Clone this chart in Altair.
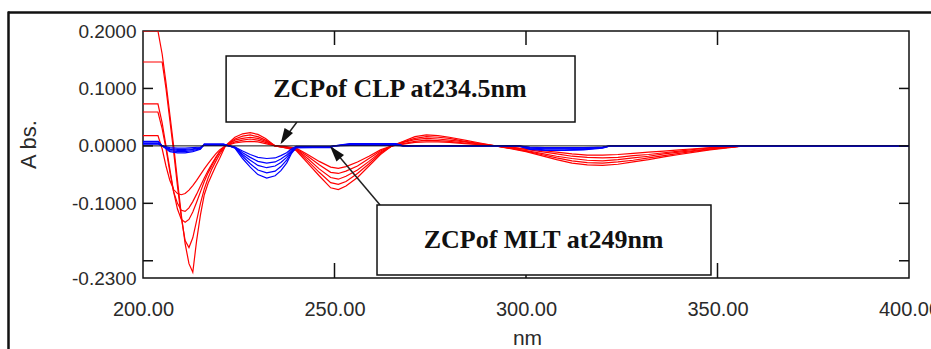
import altair as alt
import pandas as pd

# ---------------- data ----------------
red_wl = [200, 203.9, 205, 206, 207, 208, 209, 210, 211, 212, 213, 214, 215, 216, 217, 218, 219, 220,
          221.5, 224, 226, 228, 230, 232, 234.5, 237, 240, 243, 246, 249, 251, 253, 256, 259, 262, 265,
          268, 271, 274, 277, 280, 284, 288, 292, 296, 300, 304, 308, 312, 316, 320, 324, 328, 332, 336,
          340, 344, 348, 352, 357, 400]

red_E = [0.200, 0.200, 0.160, 0.110, 0.055, 0.000, -0.060, -0.120, -0.170, -0.205,
         -0.220, -0.165, -0.120, -0.085, -0.065, -0.050, -0.035, -0.022, 0.000, 0.015,
         0.021, 0.023, 0.020, 0.013, 0.000, -0.003, -0.008, -0.030, -0.052, -0.073,
         -0.076, -0.070, -0.055, -0.035, -0.015, 0.000, 0.008, 0.016, 0.019, 0.018,
         0.015, 0.010, 0.005, 0.000, -0.005, -0.010, -0.017, -0.024, -0.030, -0.033,
         -0.034, -0.032, -0.028, -0.024, -0.019, -0.015, -0.011, -0.007, -0.004, 0.000, 0.000]
red_D = [0.146, 0.146, 0.146, 0.100, 0.045, -0.010, -0.070, -0.125, -0.165, -0.177,
         -0.160, -0.130, -0.100, -0.075, -0.056, -0.040, -0.027, -0.015, 0.000, 0.012,
         0.017, 0.019, 0.016, 0.010, 0.000, -0.003, -0.007, -0.026, -0.046, -0.064,
         -0.067, -0.062, -0.048, -0.031, -0.013, 0.000, 0.007, 0.013, 0.016, 0.015,
         0.013, 0.008, 0.004, 0.000, -0.004, -0.009, -0.015, -0.021, -0.026, -0.029,
         -0.030, -0.028, -0.025, -0.021, -0.017, -0.013, -0.009, -0.006, -0.003, 0.000, 0.000]
red_C = [0.073, 0.073, 0.040, 0.000, -0.040, -0.080, -0.110, -0.128, -0.133, -0.128,
         -0.115, -0.098, -0.080, -0.062, -0.047, -0.034, -0.022, -0.011, 0.000, 0.010,
         0.013, 0.015, 0.013, 0.008, 0.000, -0.002, -0.006, -0.022, -0.040, -0.055,
         -0.058, -0.053, -0.042, -0.027, -0.011, 0.000, 0.006, 0.011, 0.013, 0.012,
         0.010, 0.007, 0.003, 0.000, -0.004, -0.008, -0.013, -0.018, -0.022, -0.025,
         -0.026, -0.024, -0.021, -0.018, -0.014, -0.011, -0.008, -0.005, -0.003, 0.000, 0.000]
red_B = [0.059, 0.059, 0.030, -0.005, -0.045, -0.080, -0.100, -0.112, -0.114, -0.108,
         -0.097, -0.084, -0.070, -0.056, -0.043, -0.031, -0.020, -0.010, 0.000, 0.007,
         0.010, 0.012, 0.010, 0.006, 0.000, -0.002, -0.005, -0.018, -0.033, -0.046,
         -0.048, -0.044, -0.035, -0.022, -0.009, 0.000, 0.004, 0.008, 0.010, 0.009,
         0.008, 0.005, 0.002, 0.000, -0.003, -0.006, -0.010, -0.014, -0.018, -0.020,
         -0.021, -0.020, -0.017, -0.015, -0.012, -0.009, -0.006, -0.004, -0.002, 0.000, 0.000]
red_A = [0.018, 0.018, -0.005, -0.035, -0.060, -0.076, -0.083, -0.085, -0.083, -0.077,
         -0.069, -0.060, -0.050, -0.040, -0.031, -0.022, -0.014, -0.007, 0.000, 0.005,
         0.007, 0.008, 0.007, 0.004, 0.000, -0.001, -0.004, -0.015, -0.027, -0.037,
         -0.039, -0.036, -0.028, -0.018, -0.007, 0.000, 0.003, 0.006, 0.007, 0.007,
         0.006, 0.004, 0.002, 0.000, -0.002, -0.005, -0.008, -0.011, -0.014, -0.016,
         -0.016, -0.015, -0.013, -0.011, -0.009, -0.007, -0.005, -0.003, -0.002, 0.000, 0.000]

blue_wl = [200, 204, 205, 207, 209, 211, 213, 215, 216, 221, 222.5, 224, 226, 228, 230, 232.3,
           234.5, 236, 237.5, 238.8, 240, 249, 250, 254, 266, 268, 298, 301, 305, 310, 315, 320, 322, 400]
blue_F5 = [0.008, 0.008, 0.0, -0.010, -0.012, -0.012, -0.010, -0.006, 0.003, 0.003,
           0.0, -0.004, -0.022, -0.037, -0.050, -0.056, -0.052, -0.043, -0.030, -0.013,
           -0.003, -0.003, 0.0, 0.004, 0.004, 0.0, 0.0, -0.006, -0.008, -0.008,
           -0.007, -0.004, 0.0, 0.0]
blue_F4 = [0.007, 0.007, 0.0, -0.008, -0.010, -0.010, -0.008, -0.005, 0.003, 0.003,
           0.0, -0.003, -0.018, -0.031, -0.042, -0.047, -0.044, -0.036, -0.025, -0.011,
           -0.003, -0.002, 0.0, 0.003, 0.003, 0.0, 0.0, -0.005, -0.007, -0.007,
           -0.006, -0.003, 0.0, 0.0]
blue_F3 = [0.005, 0.005, 0.0, -0.006, -0.008, -0.008, -0.006, -0.004, 0.002, 0.002,
           0.0, -0.003, -0.015, -0.025, -0.034, -0.038, -0.035, -0.029, -0.020, -0.009,
           -0.002, -0.002, 0.0, 0.002, 0.002, 0.0, 0.0, -0.004, -0.005, -0.005,
           -0.005, -0.003, 0.0, 0.0]
blue_F2 = [0.004, 0.004, 0.0, -0.005, -0.006, -0.006, -0.005, -0.003, 0.002, 0.002,
           0.0, -0.002, -0.012, -0.020, -0.027, -0.030, -0.028, -0.023, -0.016, -0.007,
           -0.002, -0.001, 0.0, 0.002, 0.002, 0.0, 0.0, -0.003, -0.004, -0.004,
           -0.004, -0.002, 0.0, 0.0]
blue_F1 = [0.003, 0.003, 0.0, -0.003, -0.004, -0.004, -0.003, -0.002, 0.001, 0.001,
           0.0, -0.002, -0.009, -0.015, -0.020, -0.022, -0.021, -0.017, -0.012, -0.005,
           -0.001, -0.001, 0.0, 0.001, 0.001, 0.0, 0.0, -0.002, -0.003, -0.003,
           -0.003, -0.002, 0.0, 0.0]

x_ticks = [250, 300, 350]
x_labels = [200, 250, 300, 350, 400]
y_ticks = [0.1, 0.0, -0.1, -0.2]
y_labels = [0.2, 0.1, 0.0, -0.1, -0.23]

box_texts = ["ZCPof CLP  at234.5nm", "ZCPof MLT  at249nm"]
box_x1 = [221.7, 261.1]
box_x2 = [312.8, 348.3]
box_y1 = [0.1565, -0.1029]
box_y2 = [0.0416, -0.2248]
text_x = [267.1, 304.6]
text_y = [0.0990, -0.1639]

arrow_x1 = [240.2, 261.9]
arrow_y1 = [0.0416, -0.1029]
arrow_x2 = [236.3, 249.35]
arrow_y2 = [0.0068, -0.0037]
head_x = [237.1, 250.3]
head_y = [0.0160, -0.0120]
head_angle = [211, 320]

# ---------------- tables ----------------
rows = []
for name, vals in [("A", red_A), ("B", red_B), ("C", red_C), ("D", red_D), ("E", red_E)]:
    for w, v in zip(red_wl, vals):
        rows.append({"nm": w, "abs": v, "series": "CLP" + name, "drug": "CLP"})
for name, vals in [("1", blue_F1), ("2", blue_F2), ("3", blue_F3), ("4", blue_F4), ("5", blue_F5)]:
    for w, v in zip(blue_wl, vals):
        rows.append({"nm": w, "abs": v, "series": "MLT" + name, "drug": "MLT"})
df = pd.DataFrame(rows)

boxes = pd.DataFrame({"x1": box_x1, "x2": box_x2, "y1": box_y1, "y2": box_y2,
                      "tx": text_x, "ty": text_y, "label": box_texts})
arrows = pd.DataFrame({"x1": arrow_x1, "y1": arrow_y1, "x2": arrow_x2, "y2": arrow_y2,
                       "hx": head_x, "hy": head_y, "ang": head_angle})

W, H = 766, 247
xs = alt.Scale(domain=[200, 400], nice=False, zero=False)
ys = alt.Scale(domain=[-0.23, 0.2], nice=False, zero=False)

FONT = "Liberation Sans"
x_axis = alt.Axis(values=x_labels, labelExpr="format(datum.value, '.2f')", ticks=False,
                  domain=False, grid=False, labelFont=FONT,
                  labelFontSize=20, labelColor="#2a2a2a", labelPadding=21, labelFlush=False,
                  labelOverlap=False, labelBound=False,
                  title="nm", titleFont=FONT, titleFontSize=21,
                  titleFontWeight="normal", titleColor="#2a2a2a", titleX=384, titleY=60,
                  titleBaseline="middle", titleAlign="center")
y_axis = alt.Axis(values=y_labels,
                  labelExpr="(datum.value < 0 ? '-' : '') + format(abs(datum.value), '.4f')",
                  ticks=False, domain=False, grid=False, labelFont=FONT,
                  labelFontSize=19, labelColor="#2a2a2a", labelPadding=7, labelFlush=False,
                  labelOverlap=False, labelBound=False,
                  title="A bs.", titleFont=FONT, titleFontSize=22, titleFontWeight="normal",
                  titleColor="#2a2a2a", titleAngle=270, titleX=-115, titleY=113,
                  titleAlign="center", titleBaseline="middle")


def X(f):
    return alt.X(f, scale=xs, axis=x_axis)


def Y(f):
    return alt.Y(f, scale=ys, axis=y_axis)


lines = alt.Chart(df).mark_line(strokeWidth=1.2, clip=True, interpolate="linear").encode(
    x=X("nm:Q"),
    y=Y("abs:Q"),
    color=alt.Color("drug:N", scale=alt.Scale(domain=["CLP", "MLT"], range=["#ff0000", "#0000ff"]),
                    legend=None),
    detail="series:N",
    order=alt.Order("nm:Q"),
)

zero = alt.Chart(pd.DataFrame({"v": [0.0]})).mark_rule(color="#111", strokeWidth=1).encode(
    y=Y("v:Q"))

tick_df_x = pd.DataFrame({"t": x_ticks})
xt_top = alt.Chart(tick_df_x).mark_rule(color="#111", strokeWidth=1.5).encode(
    x=X("t:Q"), y=alt.value(0), y2=alt.value(14))
xt_bot = alt.Chart(tick_df_x).mark_rule(color="#111", strokeWidth=1.5).encode(
    x=X("t:Q"), y=alt.value(H), y2=alt.value(H - 15))
tick_df_y = pd.DataFrame({"t": y_ticks})
yt_left = alt.Chart(tick_df_y).mark_rule(color="#111", strokeWidth=1.5).encode(
    y=Y("t:Q"), x=alt.value(0), x2=alt.value(10))
yt_right = alt.Chart(tick_df_y).mark_rule(color="#111", strokeWidth=1.5).encode(
    y=Y("t:Q"), x=alt.value(W), x2=alt.value(W - 10))

box_rect = alt.Chart(boxes).mark_rect(fill="white", stroke="#111", strokeWidth=1.5).encode(
    x=X("x1:Q"), x2="x2:Q", y=Y("y1:Q"), y2="y2:Q")
box_text = alt.Chart(boxes).mark_text(font="Liberation Serif", fontWeight="bold", fontSize=26,
                                       color="#111", align="center", baseline="middle").encode(
    x=X("tx:Q"), y=Y("ty:Q"), text="label:N")

arrow_line = alt.Chart(arrows).mark_rule(color="#222", strokeWidth=1.5).encode(
    x=X("x1:Q"), y=Y("y1:Q"), x2="x2:Q", y2="y2:Q")
arrow_head = alt.Chart(arrows).mark_point(shape="M0,-1L0.55,0.8L-0.55,0.8Z", filled=True, size=320,
                                          color="#111", opacity=1).encode(
    x=X("hx:Q"), y=Y("hy:Q"), angle=alt.Angle("ang:Q", scale=None))

one = pd.DataFrame({"a": [0]})
frame_top = alt.Chart(one).mark_rule(color="#111", strokeWidth=2.5).encode(
    x=alt.value(-135), x2=alt.value(W + 30), y=alt.value(-18.5))
frame_left = alt.Chart(one).mark_rule(color="#111", strokeWidth=2.5).encode(
    x=alt.value(-134.5), y=alt.value(-19.5), y2=alt.value(H + 80))

chart = alt.layer(
    lines, zero, xt_top, xt_bot, yt_left, yt_right,
    arrow_line, arrow_head, box_rect, box_text, frame_top, frame_left
).properties(
    width=W, height=H,
    autosize=alt.AutoSizeParams(type="none"),
    padding={"left": 143, "top": 31, "right": 22, "bottom": 71},
    background="white",
).configure_view(stroke="#111", strokeWidth=1.5)

chart.save("out.html", embed_options={"renderer": "svg", "actions": False})
